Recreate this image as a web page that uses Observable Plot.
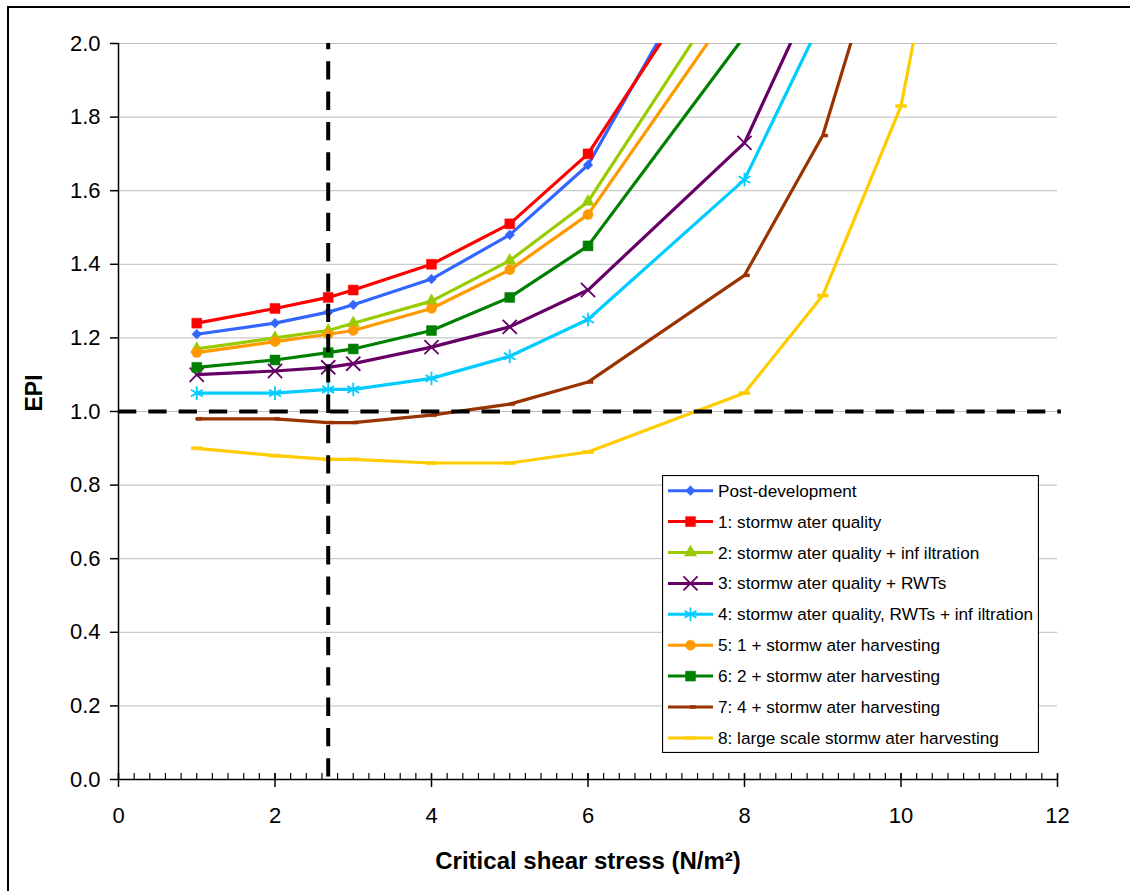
<!DOCTYPE html>
<html><head><meta charset="utf-8">
<script src="https://cdn.jsdelivr.net/npm/d3@7"></script>
<script src="https://cdn.jsdelivr.net/npm/@observablehq/plot@0.6"></script>
<style>
html,body{margin:0;padding:0;overflow:hidden;background:#fff;width:1130px;height:891px;}
#wrap{position:relative;width:1130px;height:891px;overflow:hidden;}
#border{position:absolute;left:7px;top:6px;width:1140px;height:900px;border:2px solid #000;pointer-events:none;}
#legend{position:absolute;left:662px;top:475px;}
#chart svg{display:block;}
</style></head><body>
<div id="wrap"><div id="chart"></div><div id="border"></div><div id="legend"></div></div>
<script>
// ---- data ----
const xValues = [1, 2, 2.68, 3, 4, 5, 6, 8, 9, 10, 11];
const seriesNames = [
  "Post-development",
  "1: stormw ater quality",
  "2: stormw ater quality + inf iltration",
  "3: stormw ater quality + RWTs",
  "4: stormw ater quality, RWTs + inf iltration",
  "5: 1 + stormw ater harvesting",
  "6: 2 + stormw ater harvesting",
  "7: 4 + stormw ater harvesting",
  "8: large scale stormw ater harvesting"
];
const postDevelopment = [1.21, 1.24, 1.27, 1.29, 1.36, 1.48, 1.67, 2.42];
const s1Quality       = [1.24, 1.28, 1.31, 1.33, 1.40, 1.51, 1.70, 2.35];
const s2Infiltration  = [1.17, 1.20, 1.22, 1.24, 1.30, 1.41, 1.57, 2.22];
const s3RWTs          = [1.10, 1.11, 1.12, 1.13, 1.175, 1.23, 1.33, 1.73, 2.19];
const s4RWTsInfil     = [1.05, 1.05, 1.06, 1.06, 1.09, 1.15, 1.25, 1.63, 2.07];
const s5Harvest1      = [1.16, 1.19, 1.21, 1.22, 1.28, 1.385, 1.535, 2.145];
const s6Harvest2      = [1.12, 1.14, 1.16, 1.17, 1.22, 1.31, 1.45, 2.02];
const s7Harvest4      = [0.98, 0.98, 0.97, 0.97, 0.99, 1.02, 1.08, 1.37, 1.75, 2.45];
const s8LargeScale    = [0.90, 0.88, 0.87, 0.87, 0.86, 0.86, 0.89, 1.05, 1.315, 1.83, 2.92];
const seriesValues = [postDevelopment, s1Quality, s2Infiltration, s3RWTs, s4RWTsInfil, s5Harvest1, s6Harvest2, s7Harvest4, s8LargeScale];
const seriesColors = ["#3366FF", "#FF0000", "#99CC00", "#660066", "#00CCFF", "#FF9900", "#008000", "#993300", "#FFCC00"];
const xTickLabels = [0, 2, 4, 6, 8, 10, 12];
const yTickLabels = [0, 0.2, 0.4, 0.6, 0.8, 1.0, 1.2, 1.4, 1.6, 1.8, 2.0];
const refShearStress = 2.68;
const refEPI = 1.0;
const xTitle = "Critical shear stress (N/m²)";
const yTitle = "EPI";

// ---- symbols ----
const dashSym = {draw(ctx, size){ const r = Math.sqrt(size/Math.PI); ctx.moveTo(-r, -1.5); ctx.lineTo(r, -1.5); ctx.lineTo(r, 1.5); ctx.lineTo(-r, 1.5); ctx.closePath(); }};
const halfDashSym = {draw(ctx, size){ const r = Math.sqrt(size/Math.PI); ctx.moveTo(-0.5, -1.5); ctx.lineTo(r, -1.5); ctx.lineTo(r, 1.5); ctx.lineTo(-0.5, 1.5); ctx.closePath(); }};
const markerSpec = [
  {symbol: d3.symbolDiamond2, r: 4.4, filled: true},
  {symbol: d3.symbolSquare, r: 5.6, filled: true},
  {symbol: d3.symbolTriangle, r: 4.6, filled: true},
  {symbol: d3.symbolTimes, r: 6.5, filled: false},
  {symbol: d3.symbolAsterisk, r: 6.5, filled: false},
  {symbol: d3.symbolCircle, r: 5, filled: true},
  {symbol: d3.symbolSquare, r: 5.6, filled: true},
  {symbol: halfDashSym, r: 5, filled: true},
  {symbol: dashSym, r: 5.5, filled: true}
];

const rows = seriesNames.map((name, i) => seriesValues[i].map((v, j) => ({series: name, x: xValues[j], y: v})));
const xMinorTicks = d3.range(0, 61).map(i => i * 0.2);

const font = "'Liberation Sans', Arial, Helvetica, sans-serif";
const marks = [];
marks.push(Plot.ruleY(yTickLabels.filter(d => d > 0), {stroke: "#bdbdbd", strokeWidth: 1}));
seriesNames.forEach((name, i) => {
  const m = markerSpec[i];
  marks.push(Plot.line(rows[i], {x: "x", y: "y", stroke: seriesColors[i], strokeWidth: 3.2, clip: true}));
  marks.push(Plot.dot(rows[i], {x: "x", y: "y", symbol: m.symbol, r: m.r,
    fill: m.filled ? seriesColors[i] : "none", stroke: seriesColors[i], strokeWidth: m.filled ? 0.5 : 1.8, clip: true}));
});
// axes lines
marks.push(Plot.ruleY([0], {stroke: "#000", strokeWidth: 1.5}));
marks.push(Plot.ruleX([0], {y1: 0, y2: 2, stroke: "#000", strokeWidth: 1.5}));
// x ticks: minor (inside) and major (crossing)
marks.push(Plot.ruleX(xMinorTicks, {x: d => d, y1: () => 0, y2: () => 0, insetBottom: 6, stroke: "#000", strokeWidth: 1.2}));
marks.push(Plot.ruleX(xTickLabels, {x: d => d, y1: () => 0, y2: () => 0, insetTop: 8, insetBottom: 6, stroke: "#000", strokeWidth: 1.5}));
// reference dashed lines
marks.push(Plot.ruleY([refEPI], {x1: 0, x2: 12.05, stroke: "#000", strokeWidth: 4, strokeDasharray: "18.3,12"}));
marks.push(Plot.ruleX([refShearStress], {y1: 2, y2: 0, stroke: "#000", strokeWidth: 4, strokeDasharray: "18.3,12", strokeDashoffset: 12}));
// axes
marks.push(Plot.axisY({ticks: yTickLabels, tickFormat: d3.format(".1f"), tickSize: 8, tickPadding: 10, label: null, fontSize: 22, stroke: "#000", strokeWidth: 1.5}));
marks.push(Plot.axisX({ticks: xTickLabels, tickFormat: d => String(d), tickSize: 0, tickPadding: 28, label: null, fontSize: 22}));
// titles
marks.push(Plot.text([xTitle], {text: d => d, frameAnchor: "bottom", lineAnchor: "middle", dy: 82, fontSize: 24, fontWeight: "bold", fill: "#000"}));
marks.push(Plot.text([yTitle], {text: d => d, frameAnchor: "left", dx: -84, rotate: -90, fontSize: 23, fontWeight: "bold", fill: "#000"}));

const chart = Plot.plot({
  width: 1130, height: 891,
  marginLeft: 118, marginRight: 73, marginTop: 43, marginBottom: 112,
  x: {domain: [0, 12]},
  y: {domain: [0, 2]},
  style: {fontFamily: font, fontSize: "22px", color: "#000", background: "#fff", overflow: "visible"},
  marks
});
document.getElementById("chart").appendChild(chart);

// ---- legend ----
const LW = 377, LH = 278;
const lg = d3.select("#legend").append("svg").attr("width", LW).attr("height", LH).style("font-family", font);
lg.append("rect").attr("x", 0.5).attr("y", 0.5).attr("width", LW - 1).attr("height", LH - 1).attr("fill", "#fff").attr("stroke", "#000").attr("stroke-width", 1.2);
seriesNames.forEach((name, i) => {
  const cy = 15.7 + i * 30.9;
  const m = markerSpec[i];
  const g = lg.append("g");
  g.append("line").attr("x1", 6).attr("x2", 51).attr("y1", cy).attr("y2", cy).attr("stroke", seriesColors[i]).attr("stroke-width", 3);
  g.append("path").attr("d", d3.symbol().type(m.symbol).size(Math.PI * m.r * m.r)())
    .attr("transform", `translate(28.5,${cy})`)
    .attr("fill", m.filled ? seriesColors[i] : "none").attr("stroke", seriesColors[i]).attr("stroke-width", m.filled ? 0.5 : 1.8);
  g.append("text").attr("x", 56).attr("y", cy).attr("dy", "0.35em").attr("font-size", 17.2).attr("fill", "#000").text(name);
});
</script>
</body></html>
